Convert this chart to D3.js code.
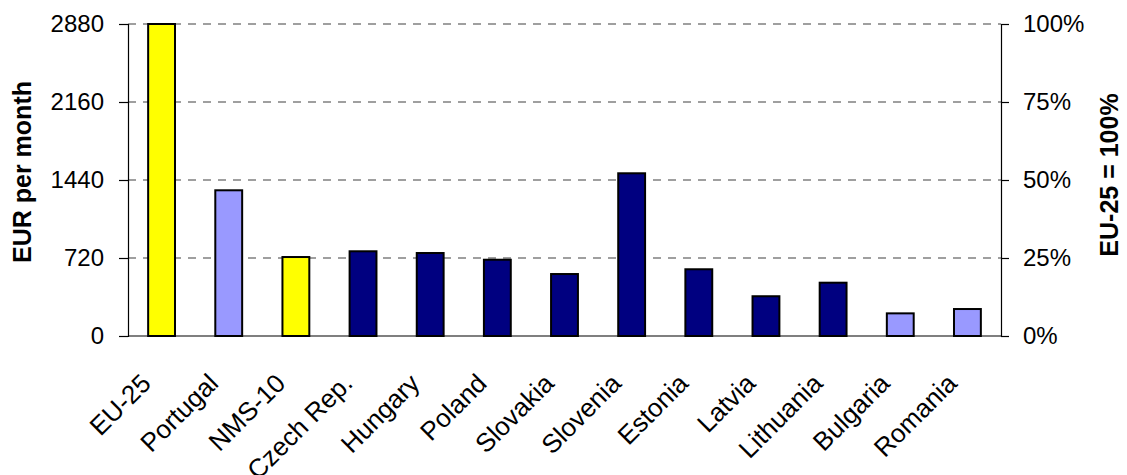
<!DOCTYPE html>
<html>
<head>
<meta charset="utf-8">
<script src="https://cdn.jsdelivr.net/npm/d3@7"></script>
<style>
  body { margin: 0; background: #fff; }
  svg text { font-family: Arial, "Liberation Sans", sans-serif; fill: #000; }
</style>
</head>
<body>
<svg id="chart" width="1127" height="475"></svg>
<script>
// data
const categories = ["EU-25", "Portugal", "NMS-10", "Czech Rep.", "Hungary", "Poland",
                    "Slovakia", "Slovenia", "Estonia", "Latvia", "Lithuania", "Bulgaria", "Romania"];
const wages      = [2880, 1345, 729, 782, 766, 704, 572, 1502, 616, 367, 492, 209, 249];
const groups     = ["agg", "ref", "agg", "nms", "nms", "nms", "nms", "nms", "nms", "nms", "nms", "cand", "cand"];
const leftTicks  = [0, 720, 1440, 2160, 2880];
const rightTicks = [0, 0.25, 0.5, 0.75, 1];

const fillFor = { agg: "#FFFF00", ref: "#9999FF", nms: "#000080", cand: "#9999FF" };

const svg = d3.select("#chart");
const m = { left: 128, right: 1001, top: 24, bottom: 336 };
const FONT = "Arial, 'Liberation Sans', sans-serif";

const x = d3.scaleBand()
  .domain(categories)
  .range([m.left, m.right])
  .paddingInner(0.6)
  .paddingOuter(0.3);

const y = d3.scaleLinear().domain([0, 2880]).range([m.bottom, m.top]);
const yPct = d3.scaleLinear().domain([0, 1]).range([m.bottom, m.top]);

// dashed grid
svg.append("g")
  .selectAll("line")
  .data(leftTicks.filter(d => d > 0))
  .enter().append("line")
    .attr("x1", m.left).attr("x2", m.right)
    .attr("y1", d => y(d)).attr("y2", d => y(d))
    .attr("stroke", "#808080")
    .attr("stroke-width", 1.3)
    .attr("stroke-dasharray", "8,7");

// baseline
svg.append("line")
  .attr("x1", m.left).attr("x2", m.right)
  .attr("y1", y(0)).attr("y2", y(0))
  .attr("stroke", "#555").attr("stroke-width", 1.3);

// bars
svg.append("g")
  .selectAll("rect")
  .data(categories)
  .enter().append("rect")
    .attr("x", d => x(d))
    .attr("width", x.bandwidth())
    .attr("y", (d, i) => y(wages[i]))
    .attr("height", (d, i) => y(0) - y(wages[i]))
    .attr("fill", (d, i) => fillFor[groups[i]])
    .attr("stroke", "#000")
    .attr("stroke-width", 2);

// left axis
const left = svg.append("g")
  .attr("transform", `translate(${m.left},0)`)
  .call(d3.axisLeft(y).tickValues(leftTicks).tickSize(9).tickPadding(15).tickFormat(d3.format("d")));
left.select(".domain").attr("stroke", "#000").attr("stroke-width", 1.2);
left.selectAll(".tick line").attr("stroke", "#000").attr("stroke-width", 1.2);
left.selectAll("text").attr("font-size", 24).attr("font-family", FONT);

// right axis
const right = svg.append("g")
  .attr("transform", `translate(${m.right},0)`)
  .call(d3.axisRight(yPct).tickValues(rightTicks).tickSize(8).tickPadding(14).tickFormat(d3.format(".0%")));
right.select(".domain").attr("stroke", "#000").attr("stroke-width", 1.2);
right.selectAll(".tick line").attr("stroke", "#000").attr("stroke-width", 1.2);
right.selectAll("text").attr("font-size", 24).attr("font-family", FONT);

// category labels, rotated; baseline end sits a little left of the bar centre
svg.append("g")
  .selectAll("text")
  .data(categories)
  .enter().append("text")
    .attr("transform", d => `translate(${x(d) + x.bandwidth() / 2 - 9},${m.bottom + 49}) rotate(-45)`)
    .attr("text-anchor", "end")
    .attr("font-size", 26)
    .text(d => d);

// axis titles
svg.append("text")
  .attr("transform", `translate(31,172) rotate(-90)`)
  .attr("text-anchor", "middle")
  .attr("font-size", 25)
  .attr("font-weight", "bold")
  .text("EUR per month");

svg.append("text")
  .attr("transform", `translate(1118,175) rotate(-90)`)
  .attr("text-anchor", "middle")
  .attr("font-size", 25)
  .attr("font-weight", "bold")
  .text("EU-25 = 100%");
</script>
</body>
</html>
